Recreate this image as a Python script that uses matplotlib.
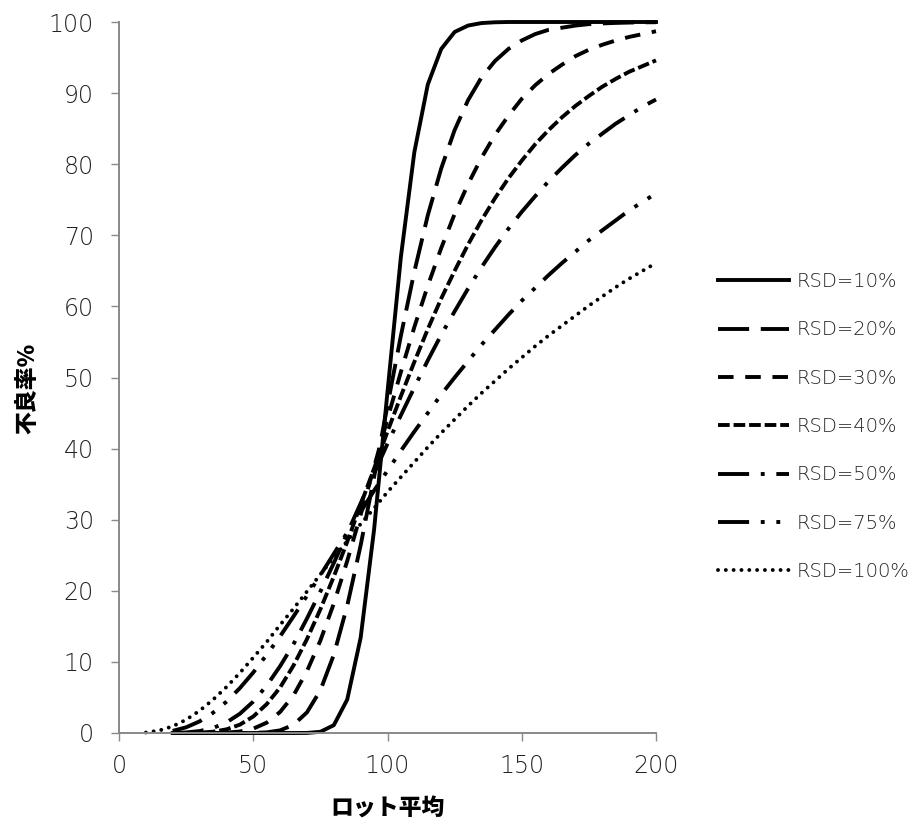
import matplotlib
matplotlib.use('Agg')
import matplotlib.pyplot as plt

# ロット平均 (x) と 不良率% (y) の読み取り値
lot_mean = [20, 25, 30, 35, 40, 45, 50, 55, 60, 65, 70, 75, 80, 85, 90, 95,
            100, 105, 110, 115, 120, 125, 130, 135, 140, 145, 150, 155, 160,
            165, 170, 175, 180, 185, 190, 195, 200]
lot_mean_100 = [10, 15] + lot_mean

rsd10 = [0, 0, 0, 0, 0, 0, 0, 0, 0, 0, 0.01, 0.17, 1.1, 4.7, 13.4, 28.6,
         48.0, 67.0, 81.7, 91.2, 96.2, 98.6, 99.5, 99.85, 99.96, 100, 100, 100, 100,
         100, 100, 100, 100, 100, 100, 100, 100]
rsd20 = [0, 0, 0, 0, 0, 0, 0.02, 0.09, 0.37, 1.15, 2.9, 6.0, 11.0, 17.9, 26.4, 36.0,
         46.1, 55.9, 64.9, 72.8, 79.4, 84.8, 89.0, 92.2, 94.5, 96.2, 97.4, 98.3, 98.9,
         99.2, 99.5, 99.7, 99.8, 99.87, 99.92, 99.95, 99.97]
rsd30 = [0, 0, 0.001, 0.01, 0.05, 0.21, 0.61, 1.45, 2.96, 5.3, 8.7, 13.0, 18.2, 24.2, 30.7, 37.4,
         44.2, 50.8, 57.1, 62.9, 68.2, 73.0, 77.2, 80.9, 84.1, 86.8, 89.2, 91.1, 92.7,
         94.0, 95.2, 96.1, 96.8, 97.4, 97.9, 98.3, 98.7]
rsd40 = [0.0, 0.01, 0.05, 0.18, 0.51, 1.17, 2.32, 4.05, 6.4, 9.5, 13.2, 17.4, 22.0, 26.9, 32.1, 37.2,
         42.4, 47.4, 52.2, 56.8, 61.1, 65.0, 68.7, 72.1, 75.2, 78.0, 80.5, 82.8, 84.8,
         86.6, 88.2, 89.6, 90.9, 92.0, 93.0, 93.8, 94.6]
rsd50 = [0.01, 0.08, 0.27, 0.70, 1.48, 2.70, 4.42, 6.66, 9.4, 12.5, 16.1, 19.9, 23.9, 28.1, 32.3, 36.5,
         40.7, 44.7, 48.6, 52.4, 56.0, 59.3, 62.5, 65.5, 68.3, 70.9, 73.3, 75.5, 77.6,
         79.5, 81.3, 82.9, 84.3, 85.7, 86.9, 88.1, 89.1]
rsd75 = [0.30, 0.80, 1.63, 2.84, 4.40, 6.31, 8.51, 11.0, 13.6, 16.4, 19.3, 22.2, 25.2, 28.2, 31.1, 34.1,
         36.9, 39.7, 42.4, 45.0, 47.6, 50.0, 52.3, 54.6, 56.7, 58.8, 60.8, 62.6, 64.4,
         66.1, 67.7, 69.3, 70.7, 72.1, 73.5, 74.7, 75.9]
rsd100 = [0.07, 0.35, 0.94, 1.87, 3.13, 4.68, 6.46, 8.45, 10.6, 12.8, 15.2, 17.5, 19.9, 22.3, 24.7, 27.0,
          29.4, 31.6, 33.9, 36.0, 38.1, 40.2, 42.2, 44.1, 46.0, 47.8, 49.5, 51.2, 52.8,
          54.4, 55.9, 57.3, 58.7, 60.1, 61.4, 62.7, 63.9, 65.0, 66.1]

labels = ['RSD=10%', 'RSD=20%', 'RSD=30%', 'RSD=40%', 'RSD=50%', 'RSD=75%', 'RSD=100%']

plt.rcParams['font.family'] = ['DejaVu Sans']
jp_font = dict(family=['Noto Sans CJK JP', 'DejaVu Sans'], weight='heavy')

fig = plt.figure(figsize=(9.16, 8.26), dpi=100)
ax = fig.add_axes([119 / 916, 1 - 733 / 826, (656 - 119) / 916, (733 - 22) / 826])

lw = 2.8
ax.plot(lot_mean, rsd10, color='black', lw=lw, ls='-', label=labels[0], clip_on=False)
ax.plot(lot_mean, rsd20, color='black', lw=lw, ls=(0, (8, 3)), label=labels[1], clip_on=False)
ax.plot(lot_mean, rsd30, color='black', lw=lw, ls=(0, (4, 3)), label=labels[2], clip_on=False)
ax.plot(lot_mean, rsd40, color='black', lw=lw, ls=(0, (3, 1)), label=labels[3], clip_on=False)
ax.plot(lot_mean, rsd50, color='black', lw=lw, ls=(0, (8, 3, 1, 3)), label=labels[4], clip_on=False)
ax.plot(lot_mean, rsd75, color='black', lw=lw, ls=(0, (8, 3, 1, 3, 1, 3)), label=labels[5], clip_on=False)
ax.plot(lot_mean_100, rsd100, color='black', lw=lw, ls=(0, (0.01, 2)),
        dash_capstyle='round', label=labels[6], clip_on=False)

ax.set_xlim(0, 200)
ax.set_ylim(0, 100)
ax.set_xticks([0, 50, 100, 150, 200])
ax.set_yticks(range(0, 101, 10))

for side in ['top', 'right']:
    ax.spines[side].set_visible(False)
for side in ['left', 'bottom']:
    ax.spines[side].set_color('#898989')
    ax.spines[side].set_linewidth(1.4)
ax.tick_params(axis='both', direction='out', length=6, width=1.0, color='#898989')
ax.tick_params(axis='x', pad=9)
ax.tick_params(axis='y', pad=12)
for t in ax.get_xticklabels() + ax.get_yticklabels():
    t.set_fontsize(17)
    t.set_fontweight('light')
    t.set_color('#222222')

ax.set_xlabel('ロット平均', fontsize=16.5, **jp_font)
ax.set_ylabel('不良率%', fontsize=16.5, **jp_font)
ax.xaxis.set_label_coords(0.5, -(809 - 733) / 711)
ax.yaxis.set_label_coords(-(119 - 28) / 537, (733 - 388) / 711)
ax.xaxis.label.set_va('center')
ax.yaxis.label.set_va('center')

leg = fig.legend(loc='upper left', bbox_to_anchor=(718 / 916, 1 - 272 / 826),
                 frameon=False, borderpad=0, borderaxespad=0,
                 handlelength=3.65, handletextpad=0.41, labelspacing=1.51,
                 prop=dict(size=14, family='DejaVu Sans', weight='light'))
for t in leg.get_texts():
    t.set_color('#222222')

fig.savefig('out.png', dpi=100)
